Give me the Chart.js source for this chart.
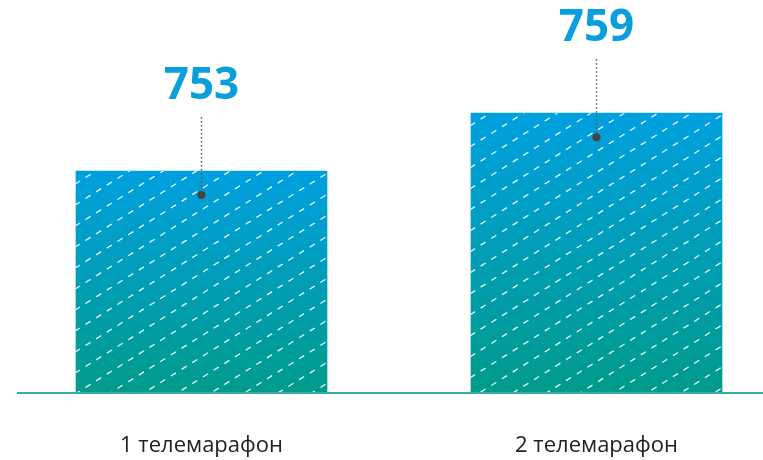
<!DOCTYPE html>
<html>
<head>
<meta charset="utf-8">
<script src="https://cdn.jsdelivr.net/npm/chart.js@4"></script>
<style>
  body { margin: 0; background: #fff; }
  #wrap { width: 763px; height: 460px; }
</style>
</head>
<body>
<div id="wrap"><canvas id="chart"></canvas></div>
<script>
const categories = ['1 телемарафон', '2 телемарафон'];
const values = [753, 759];
const yMin = 730;
const yMax = 770;

// градиент для каждого столбца отдельно
function barGradient(c) {
    const chart = c.chart;
    if (!chart.chartArea) return '#00a0df';
    const yScale = chart.scales.y;
    const top = yScale.getPixelForValue(values[c.dataIndex]);
    const bottom = yScale.getPixelForValue(yMin);
    const g = chart.ctx.createLinearGradient(0, top, 0, bottom);
    g.addColorStop(0, '#00a0e0');
    g.addColorStop(1, '#009b8b');
    return g;
}

const decor = {
    id: 'decor',
    afterDatasetsDraw(chart) {
        const ctx = chart.ctx;
        const meta = chart.getDatasetMeta(0);
        const k = 0.626;
        meta.data.forEach((bar, i) => {
            const { x, y, base, width } = bar.getProps(['x', 'y', 'base', 'width'], true);
            // штриховка
            ctx.save();
            ctx.beginPath();
            ctx.rect(x - width / 2, y, width, base - y);
            ctx.clip();
            ctx.strokeStyle = 'rgba(255,255,255,0.9)';
            ctx.lineWidth = 1.3;
            ctx.setLineDash([6, 6.6]);
            for (let c = 0; c < 460 + k * 800; c += 21) {
                ctx.beginPath();
                ctx.moveTo(0, c);
                ctx.lineTo(800, c - k * 800);
                ctx.stroke();
            }
            ctx.restore();

            // подпись, пунктир и точка
            const dotY = y + 24;
            ctx.save();
            ctx.strokeStyle = '#555';
            ctx.lineWidth = 1.5;
            ctx.setLineDash([1.5, 2.5]);
            ctx.beginPath();
            ctx.moveTo(x, dotY - 78);
            ctx.lineTo(x, dotY);
            ctx.stroke();
            ctx.setLineDash([]);
            ctx.fillStyle = '#444';
            ctx.beginPath();
            ctx.arc(x, dotY, 4, 0, Math.PI * 2);
            ctx.fill();
            ctx.fillStyle = '#0a9fdc';
            ctx.font = 'bold 44px "Open Sans"';
            ctx.textAlign = 'center';
            ctx.textBaseline = 'middle';
            ctx.fillText(String(values[i]), x, dotY - 109);
            ctx.restore();
        });

        // базовая линия
        const by = chart.chartArea.bottom;
        ctx.save();
        ctx.strokeStyle = '#3aada0';
        ctx.lineWidth = 2;
        ctx.beginPath();
        ctx.moveTo(17, by);
        ctx.lineTo(763, by);
        ctx.stroke();
        ctx.restore();
    }
};

new Chart(document.getElementById('chart'), {
    type: 'bar',
    data: {
        labels: categories,
        datasets: [{
            data: values,
            base: yMin,
            backgroundColor: barGradient,
            borderWidth: 0,
            barThickness: 251,
            clip: false
        }]
    },
    options: {
        responsive: true,
        maintainAspectRatio: false,
        animation: false,
        layout: { padding: { left: 201.5, right: 166.5, top: 7, bottom: 0 } },
        plugins: { legend: { display: false }, tooltip: { enabled: false } },
        scales: {
            x: {
                offset: false,
                grid: { display: false, drawTicks: false },
                border: { display: false },
                afterFit(scale) { scale.height = 67; },
                ticks: { color: '#222', padding: 40, maxRotation: 0, font: { family: '"Open Sans"', size: 22 } }
            },
            y: { display: false, min: yMin, max: yMax }
        }
    },
    plugins: [decor]
});
</script>
</body>
</html>
